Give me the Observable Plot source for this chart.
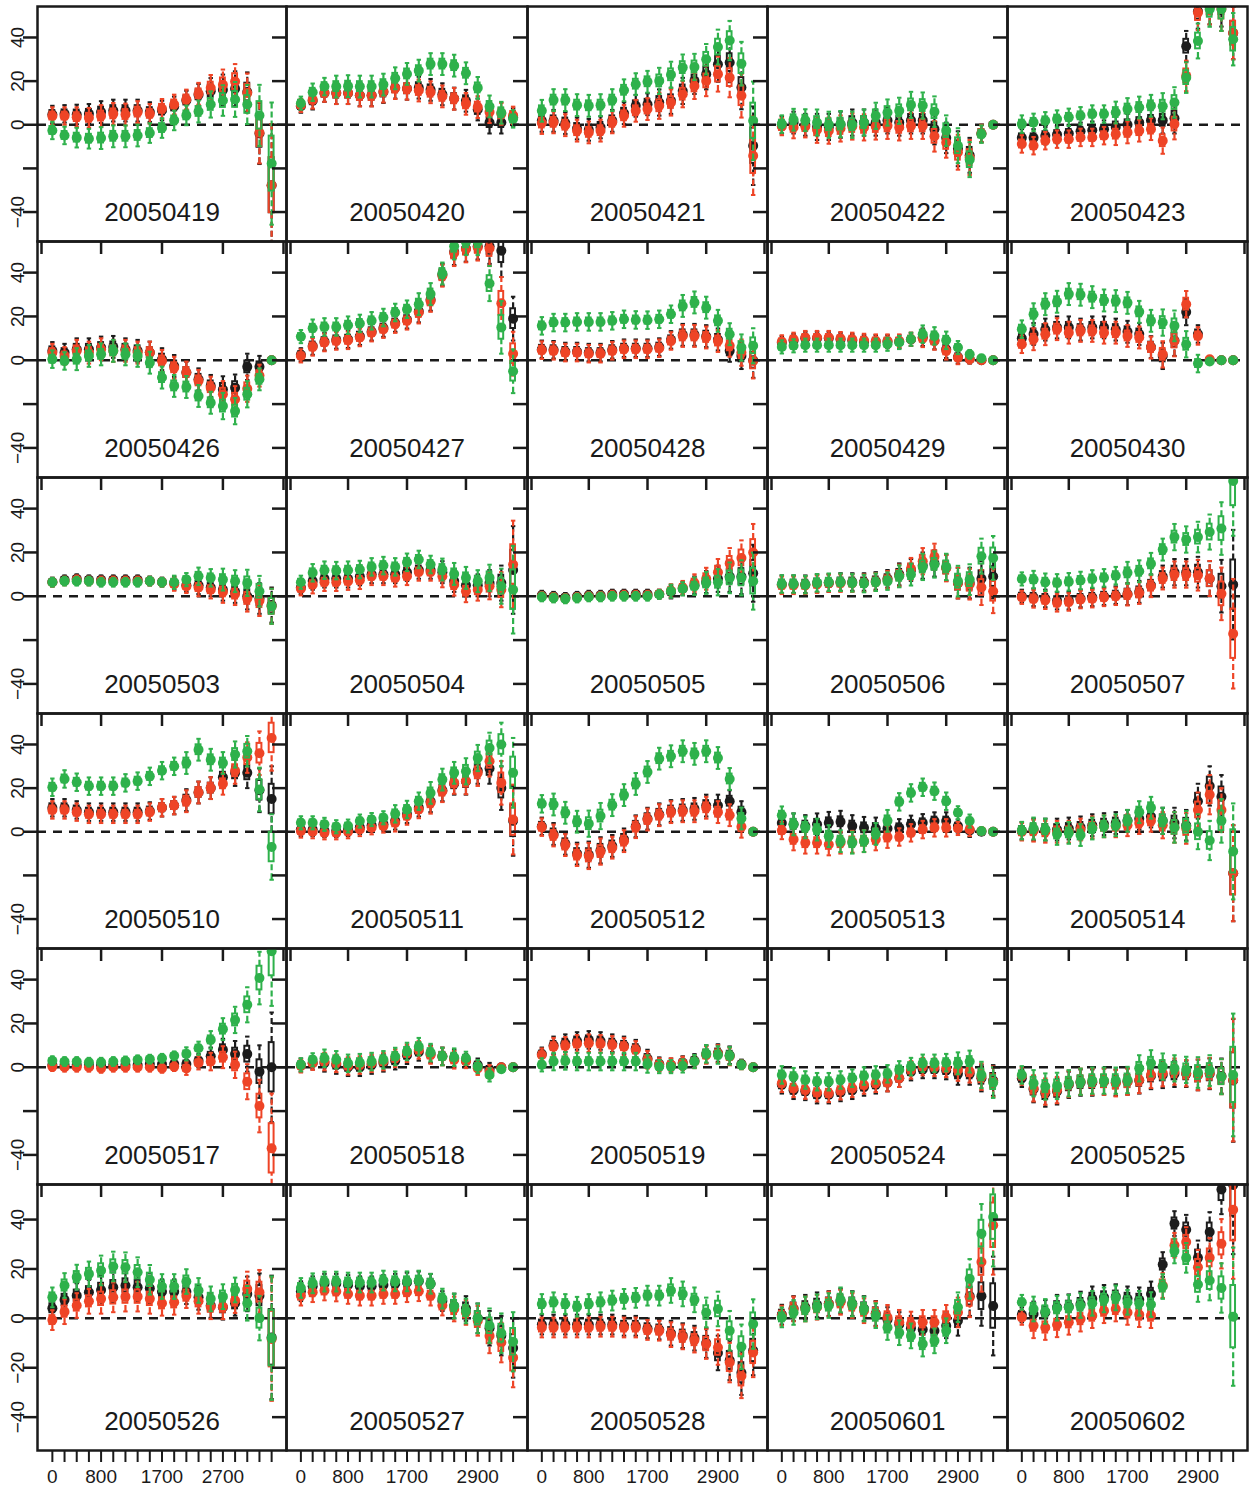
<!DOCTYPE html>
<html><head><meta charset="utf-8">
<script src="https://cdn.jsdelivr.net/npm/d3@7"></script>
<script src="https://cdn.jsdelivr.net/npm/@observablehq/plot@0.6"></script>
<style>
body{margin:0;background:#fff;}
#chart{position:relative;width:1249px;height:1486px;font-family:"Liberation Sans",Arial,Helvetica,sans-serif;}
#chart svg{position:absolute;overflow:visible;}
</style></head><body><div id="chart"></div>
<script>
// ---------- data ----------
const dates = ["20050419","20050420","20050421","20050422","20050423",
"20050426","20050427","20050428","20050429","20050430",
"20050503","20050504","20050505","20050506","20050507",
"20050510","20050511","20050512","20050513","20050514",
"20050517","20050518","20050519","20050524","20050525",
"20050526","20050527","20050528","20050601","20050602"];

const xLabelIdxFirst = [0,4,9,14];
const xLabelTextFirst = ["0","800","1700","2700"];
const xLabelIdxOther = [0,4,9,15];
const xLabelTextOther = ["0","800","1700","2900"];
const xInnerTicks = [4,9,14];
const yTicks = [-40,-20,0,20,40];
const yLabelsUpper = [-40,0,20,40];
const yLabelsBottom = [-40,-20,0,20,40];

const medBlack = [
[4.7,5,4.7,5,5.8,6.5,6.5,6.5,5.8,6.5,8.4,11.1,13.7,15.4,16,16.5,15,-4,-27.7],
[8.5,11,14.5,14.5,14.5,13.5,13.5,15,17,16.5,17,16,14,12,11,7,1,1,3.5],
[1.8,1.8,0.8,-1.7,-2.3,-1.2,1.8,5.3,8.7,9.4,10.2,11,15.5,20.1,23.2,27.7,28.5,17.1,-9.6],
[0,1,0,-1,-1,0,1,1,1,2,1,2,2,-2,-6,-11,-14,-4,0],
[-6,-6,-5,-4.5,-4,-3,-2.5,-2,-1,0,1,2,2,3,36,52,54,55,42],
[4.3,3.5,5,5,5.8,6.1,5,4.3,3.5,0.5,-2.6,-5.6,-8.7,-11.7,-13.3,-12.5,-3,-3,0],
[2.5,6.5,8.5,9.3,9.6,11,13,14.7,17,18.5,22.3,27.6,39,49.5,51,52,52,50,19],
[5,4.8,4,4,3.5,3.5,4.8,5.5,5.5,5.5,6,9.3,11.6,11.6,11,9.5,4.3,2,0],
[8,9,10,10,10,9.5,9,8.5,8.5,8.5,8.5,9.5,10.5,9,5,1.5,0.5,0,0],
[10,12,14,15,15,14,15,15,14,13,12,6,2,9,22,12,0,0,0],
[6.5,7.5,8,7.5,7.5,7.5,7.5,7.5,7,6.5,6,5,5,4,3,2,0,-1,-4],
[4,7,8,8,8,9,10,10,10,11,12,12,11,7,5,5,6,6,12],
[0.5,0,-0.5,0,0.5,0.5,1,1,1,1,1,2,3.5,5,6.5,8,9,9,10.5],
[5.5,5.5,5.5,6,6,6.5,6.5,6.5,7,8,10,12,14,15,13,6,6,8,9],
[0,-0.5,-1,-2,-2,-1,-0.5,0,0.5,1,2,5,9,11,11,11,8,4.6,5.3],
[11,11,10,9,9,9,9,9,9.5,11,12,14.5,18,20,25,27,27,19,15],
[1,1,0.5,0.5,1,2,3,3.5,5,8,11,14,19,22,23,28,29,20,5],
[2.5,-1,-5.5,-10,-10.5,-8.5,-6.5,-3.5,2.5,6,8,9.5,10,10.5,12,12,14,9,0],
[4,3.4,2.6,3.4,4.1,4.6,2.6,1.8,1.5,1.5,1.8,3.4,4.1,4.9,4.9,2.6,0.6,0,0],
[0.5,1,1,1,1.5,2,3,3.5,4,5,6,7,5,4,3,14,21,16,-19],
[1,1,1,1,1,1,1,1,1.5,1.5,1.5,1.5,3,5,8,6,6,-2,0],
[1,2,2,1,0,0,1,2,3,5.5,7,6,5,4,3,1,-1,0,0],
[6,10,11,12,12.5,12,11,10,8.5,4,1.5,1,2,3,6,6.5,5.5,1.5,0],
[-8,-10.5,-11,-12.5,-12.5,-11.5,-10.5,-9,-8,-7,-5,-2,-1,-1,-1.5,-3,-3,-5,-6],
[-5,-10,-12,-11,-8,-7,-7,-6.5,-7,-6.5,-6,-4,-3.5,-3,-3,-3.5,-3,-4,-6],
[4.1,7.5,9.2,10.6,11.5,12.6,13.3,12.6,12.2,10.8,10.8,10.8,8.5,5.2,4.5,6.1,9.9,9.2,-7.7],
[11,13,14,14,13.5,13,13,13.5,14,14.5,15,14,7,5,4,0,-4,-7,-12],
[-2.5,-2.5,-2.5,-2.5,-2.5,-2.5,-2.5,-3,-3,-4,-4.5,-6,-7,-8,-10,-14,-17,-22,-13],
[1.5,4,4.5,5.5,6,7,6,4,2,-0.5,-2.5,-4,-4.5,-5,-3,-1,9,9,5],
[1.4,1.8,2.4,4.5,4.7,5.8,7.9,8.5,8.8,7.9,7.5,9.9,21.8,38.4,35.9,24.5,35,52.2,54]
];

const medRed = [
[4,4,3.5,3.2,4,5,4.7,5.8,5,7.3,9.3,11.6,14.2,16.8,18.3,19.8,14.5,-3.7,-27.7],
[8.8,11.4,14.5,14.5,14.5,13.4,13.4,15.2,16.8,16.5,15.7,14.9,13,11.9,9.6,8.1,5.8,5,4.3],
[0.8,1.1,-0.2,-2.7,-3.5,-2.7,1.1,4.1,6.4,7.2,8.7,10.2,14,17.8,20.1,23.2,21.6,13.3,-14.2],
[-0.8,-1.2,-0.8,-2.3,-2.7,-1.7,-0.8,-1.2,-0.8,-0.5,-1.2,-0.5,-0.5,-5.3,-8.1,-12.6,-15,-4,0],
[-8.8,-9.6,-7.3,-6.6,-6.6,-5.8,-5.8,-5,-4.3,-3.5,-2.7,-2,-7.3,0.3,22.4,51.4,54,53,42],
[3.5,2,4.3,3.5,5,4.3,4.3,3.5,3.5,-0.3,-3.4,-5.6,-9.4,-12.5,-15.5,-17.8,-13,-7,0],
[2,6.1,8.1,8.8,9.1,10.4,12.6,14.2,16.5,18,21.8,27.1,38.6,49,50.7,51.5,51,26,3],
[4.6,4.3,3.5,3.5,3,3,4.3,5,5,5,5.5,8.8,11.1,11.1,10.4,8.8,6.6,3.5,-0.3],
[8.4,9.6,10.4,10.4,10.4,9.9,9.6,9.1,8.8,8.8,8.8,9.6,10,8.8,4.3,1.2,0.5,0,0],
[7.3,9.6,11.9,14.2,12.6,13.4,13.4,12.6,12.6,11.1,10.4,5.8,2.7,8.8,25.6,11.1,0.5,0,0],
[6.4,7,7.5,7,7,7,7,7,6.9,6.4,5.5,4.5,4,3,2,1,-1,-2,-4.6],
[3.4,5.3,6.4,6.4,6.9,7.3,9.1,9.1,8.4,9.1,11.1,11.1,9.1,5.3,2.3,3,4.6,3,14.5],
[0,-0.5,-1,-0.5,0,0,0.5,0.5,0.5,0.5,1,2.5,4,6,8,11,15,17.5,20],
[5,5,5,5.5,6,6,6,6,6.5,7.5,9.5,12.5,16,18,12.8,6,5.5,4,2.3],
[-0.5,-1.2,-1.8,-3,-2.6,-1.5,-1.1,-0.5,0,0.8,1.5,4.6,8.1,9.9,9.9,9.6,8.1,1.1,-17.1],
[10,10,9,8,8,8,8,8,9,11,12,14,18,20,22,28,34,36,43],
[0.3,0,-0.5,-0.5,0,1,1.8,2.6,4.1,7.2,10.2,13.3,18.6,22.4,23.2,27,32.3,22.4,5.6],
[2.1,-1.7,-6.1,-10.7,-11.1,-9.1,-7.3,-4.3,2.1,5.6,7.6,9,9.4,9.4,11,9,7.6,2.3,0],
[0.6,-3.5,-5,-5,-5.8,-5,-4.6,-4.3,-3.5,-2.4,-2.4,-0.5,1,1.8,1.8,1.5,1,0.3,0],
[0,0.5,0,0,0,1,2,2.5,2.5,3,4,5,3,2,1.5,10,17,10,-19],
[0.3,0,0,0,-0.5,0,0,0,0,-0.5,0.3,-0.5,2,2.6,4.6,1.1,-6.6,-17.7,-37],
[0.6,1.8,2.6,1.8,0.6,1,1.8,2.6,4.1,6.4,7.9,5.6,4.9,3.4,2.6,-0.5,-2,0,0],
[5.6,9.4,9.8,10.7,11,10.7,10.2,9.4,7.9,3.4,1.1,1.1,1.8,2.6,5.6,6.1,4.9,1.1,0],
[-7.3,-9.6,-10.4,-11.6,-11.9,-10.7,-9.6,-8.1,-7.3,-7,-5,-1.2,0.3,0,-0.5,-1.2,-2,-4.3,-6.6],
[-4,-9.6,-11.1,-10.4,-7.6,-6.6,-6.6,-6.6,-7.3,-6.6,-5.8,-3.5,-2.7,-2,-2.7,-3.5,-2.7,-4.3,-5.8],
[-0.7,2.7,5.2,6.9,7.9,8.5,8.8,8.8,7.9,6.1,6.5,9.2,6.9,4.7,4.7,7.2,11.9,10.6,-8.4],
[9.2,10.6,11.3,10.9,9.9,9.2,9.2,9.9,9.9,10.6,11,9.2,5.2,3.8,2.4,-1,-7.1,-9.8,-15.9],
[-3.7,-3.7,-3.7,-3.7,-3.7,-3.4,-3.4,-3.7,-3.7,-4.7,-5,-6.6,-7.5,-8.8,-10.4,-11.8,-17.9,-23.3,-13.8],
[1.1,3.8,3.8,4.5,5.8,6.5,5.2,3.1,1.8,0.4,-1.6,-2.3,-1.6,-1.6,0.4,2.4,8.5,22.8,37.7],
[0.4,-3,-3.7,-2.6,-1.6,-0.3,1.1,3.1,3.8,2.4,1.5,1.1,13.3,29.6,30.9,20.7,24.5,30.2,44]
];

const medGreen = [
[-2.6,-4.9,-5.9,-6.4,-6.1,-5.3,-5.3,-4.9,-3.8,-1.5,2,4.3,6.1,9.3,11.1,11.6,9.3,4.3,-17.8],
[9.9,14.9,17.5,17.5,17.7,17.5,17.5,18.4,21.3,23.3,24.8,27.8,27.8,27.1,23.6,16.9,8.4,5.5,2.7],
[6.4,11.3,11.3,9,8.7,9,11.3,15.8,18.6,19.7,20.1,22.9,26.2,26.5,30,35.6,38.6,28,1.8],
[0.3,2.3,2.1,1,0,0.3,0,1,4.1,5.6,6.4,9.1,8.8,6,-2.7,-9.6,-16,-4.3,0],
[0.3,1.1,1.8,2.6,3.4,4.1,4.9,4.9,5.6,7.2,7.9,8.7,8.5,10.2,21.6,38.4,52.9,53,39.2],
[0.5,-0.3,0.5,2,2.7,4.3,2.7,2,-1.1,-7.9,-11.7,-12.2,-16.3,-19.4,-20.9,-23.2,-15.5,-8.7,0],
[10.8,14.6,15.2,15.2,16,16.8,18,19.5,21.8,23.3,25.6,30.2,39.6,52,54,54,35,15,-5],
[15.7,17.2,17.2,17.5,17.5,17.5,18,18.7,18.4,18.3,18.7,21,24.8,26.4,24,18,11.9,5.8,6.6],
[6.1,6.6,6.9,6.9,6.9,6.9,6.9,6.9,6.9,7.3,8.1,9.6,11.9,11.1,9.1,5.8,2.7,0.9,0],
[14.2,21,25.6,26.7,30.2,29.9,28.8,27.3,27,26.2,22.1,18,17.2,15.7,7.3,-1.5,-0.6,0,0],
[6.4,6.9,6.9,6.9,6.4,6.4,6.4,6.4,6.9,6.4,6.4,7.6,9.1,8.4,7.6,6.9,6.1,2.3,-4.6],
[6.4,10.7,11.9,11.7,11.9,12.2,13.4,14,13.4,15.5,16.8,14.5,12.2,10.2,8.4,6.9,8.4,4.6,3],
[-0.3,-0.8,-1.2,-0.8,-0.3,-0.3,0,0,0,0,0.8,2.3,3.4,4.6,6.1,6.4,8.4,8.4,6.9],
[5.6,5.6,5.3,6.1,6.4,6.4,6.1,5.8,6.4,6.9,9.1,9.9,13.4,14.5,13.4,6.9,7.6,18.3,17.5],
[7.9,7.6,6.4,6.1,6.6,7.2,7.9,8.4,9.4,10.7,11.4,14.8,21.3,27,25.9,27,29.3,30.9,52.6],
[20.4,24.2,22.7,20.9,20.9,20.9,22.4,23.2,25.4,28,30,31.5,37.6,33,31.5,35.4,36.9,19.4,-7],
[4.1,4.1,3.4,2.3,2.6,4.9,5.6,6.4,8.2,10.2,14,17.8,23.9,27,27.7,33.8,38.4,40,27],
[12.8,12.5,8.7,4.6,3.7,7.2,12.2,16.8,21.9,27.4,33.5,34.6,36.9,35.7,36.9,33.8,24.2,6.1,0],
[7.6,3.4,2,1,-2,-4.3,-5,-4.3,-1,5,13.7,17.8,20.4,18.6,14,8.7,4.9,0.3,0],
[0.5,1.5,1,-1,-0.5,-1.5,1.5,2.5,3,5,9,11,5,2,2.5,0,-4,5,-9],
[3,2.6,2.6,2.3,2.3,2.6,2.9,3.4,3.7,4.1,5.2,6.1,8.7,12.5,17.4,21.6,28.5,40.7,53],
[1.1,3.4,4.1,3.4,1.8,2.1,2.6,3.4,4.9,7.2,9.4,6.7,4.9,4.6,4.1,0.3,-3.5,-0.9,0],
[1.1,2.6,2.9,2.6,2.6,2.6,2.6,2.6,2.6,1.5,0.3,0.3,0.6,2.6,6.1,5.6,5.2,1.1,0],
[-3.5,-4.3,-5.8,-6.6,-6.6,-5.8,-5,-4,-3.5,-3,-1.2,0.3,1.8,1.8,2.1,1.8,2.6,-3.5,-7],
[-3.5,-7.3,-8.8,-8.5,-7.3,-6.6,-6.1,-6.1,-6.1,-5.8,-0.5,1.8,0.3,-0.5,-1.2,-2.4,-1.5,-4.3,-3.5],
[8.5,13.3,16.7,18,19.4,21,20.7,18.7,15.6,12.9,12.9,14.9,11.3,7.9,8.8,11.5,6.1,0.1,-8],
[12.3,14.2,14.9,14.9,14.5,14.5,14.5,15.3,15,15,15.3,14,8,5,3,0,-3,-6,-9.5],
[5.8,6.5,5.8,4.7,5.8,6.5,7.2,7.9,8.3,9.2,9.2,11.3,9.9,7.5,2.4,3.8,-5,-11.5,-2.3],
[0.4,2.4,3.8,4.7,5.2,7.5,5.8,3.8,1.1,-3.7,-5.8,-7.1,-10.4,-9.1,-5,4.5,16,34.3,41],
[6.5,3.8,2.8,4.1,4.5,5.2,6.1,7.5,8.3,6.5,6.1,5.6,12.9,27.3,24.5,13.7,15.3,12.3,0.7]
];

// whisker half-length per panel and position
const spread = [
[4,4,4.5,4.5,5,5,5,5,4.5,4.5,4.5,4.5,5,6,7,8,9,14,28],
[3,4,4,5,5,5,5,5,5,5,5,5,5,5,5,5,5,5,4],
[5,5,5,5,5,5,5,5,5,5,6,6,6,6,7,8,9,10,18],
[4,5,5,6,6,6,6,6,6,6,6,6,6,7,7,8,8,4,1],
[4,4,4,4,4,4,4,4,5,5,5,5,6,7,7,8,8,10,12],
[4,4,5,5,5,5,5,5,5,5,5,5,5,5,6,6,6,5,1],
[3,4,4,4,4,4,4,4,4,4,5,5,5,6,6,6,8,12,10],
[4,4,4,4,4,4,4,4,4,4,4,4,5,5,5,5,5,6,8],
[3,3,3,3,3,3,3,3,3,3,3,3,4,4,4,3,2,1,1],
[4,5,5,5,5,5,5,5,5,5,5,5,6,7,6,4,1,1,1],
[2,2,2,2,2,2,2,2,2,2,3,3,4,4,5,5,6,7,8],
[3,4,4,4,4,4,4,4,4,4,4,4,5,5,5,5,6,8,20],
[2,2,2,2,2,2,2,2,2,2,2,3,3,4,5,6,7,8,13],
[4,4,4,4,4,4,4,4,4,4,5,5,6,6,6,7,7,8,10],
[3,4,4,4,4,4,4,4,4,5,5,5,5,6,6,7,8,12,25],
[4,4,4,4,4,4,4,4,4,4,4,5,5,5,5,6,7,10,15],
[3,3,3,3,3,3,3,3,4,4,4,5,5,5,6,6,7,10,16],
[4,5,5,5,6,6,5,5,5,5,5,5,5,5,5,5,5,5,1],
[4,5,5,5,5,5,5,5,5,5,4,4,4,4,4,3,3,1,1],
[4,5,5,5,5,5,5,5,5,5,5,5,6,7,7,8,9,10,22],
[2,2,2,2,2,2,2,2,2,2,2,3,3,4,5,6,8,12,25],
[3,3,4,4,4,4,4,4,4,4,4,4,4,4,3,3,3,1,1],
[3,4,4,4,4,4,4,4,4,4,3,3,3,3,4,4,4,2,1],
[4,4,4,4,4,4,4,4,4,4,4,4,4,4,4,5,5,6,7],
[4,6,6,6,6,6,6,6,6,6,6,6,6,6,6,7,7,8,28],
[4,5,5,5,6,6,6,6,6,5,5,5,5,5,5,5,7,9,25],
[4,4,4,4,4,4,4,4,4,4,4,4,4,5,5,6,7,8,12],
[4,4,4,4,4,4,4,4,4,4,4,5,5,5,6,7,8,9,10],
[4,5,5,5,5,5,5,5,5,5,5,5,5,5,5,6,8,12,20],
[3,5,5,5,5,5,5,5,5,5,5,5,5,5,6,7,8,10,28]
];

// ---------- layout & style ----------
const colEdges = [37, 286, 527, 767, 1007, 1247];
const rowEdges = [6, 241, 477, 713, 948, 1184, 1450];
const nLevels = 19;
const xPad = 1.22;
const yDomain = [-53.5, 54.2];
const colors = {black: "#1c1c1c", red: "#ee4426", green: "#2eb14b"};
const ink = "#1a1a1a";
const boxFrac = 0.45;
const capSymbol = {draw(ctx, size) { const w = Math.sqrt(size) / 2; ctx.moveTo(-w, 0); ctx.lineTo(w, 0); }};
const fmtNum = d => d < 0 ? "\u2212" + (-d) : String(d);

const chart = document.getElementById("chart");

function panel(p) {
  const r = Math.floor(p / 5), c = p % 5;
  const w = colEdges[c + 1] - colEdges[c];
  const h = rowEdges[r + 1] - rowEdges[r];
  const step = w / (nLevels - 1 + 2 * xPad);
  const isBottom = r === 5;
  const levels = d3.range(nLevels);

  const marks = [
    Plot.ruleY([0], {stroke: ink, strokeWidth: 2.5, strokeDasharray: "9,7"})
  ];
  const series = [["black", medBlack[p]], ["red", medRed[p]], ["green", medGreen[p]]];
  for (const [name, vals] of series) {
    const data = vals.map((m, i) => ({i, m, s: spread[p][i]}));
    const col = colors[name];
    marks.push(
      Plot.ruleX(data, {x: "i", y1: d => d.m - d.s, y2: d => d.m - boxFrac * d.s, stroke: col, strokeWidth: 2.2, strokeDasharray: "6,3", clip: true}),
      Plot.ruleX(data, {x: "i", y1: d => d.m + boxFrac * d.s, y2: d => d.m + d.s, stroke: col, strokeWidth: 2.2, strokeDasharray: "6,3", clip: true}),
      Plot.dot(data, {x: "i", y: d => d.m - d.s, symbol: capSymbol, r: 2.5, stroke: col, strokeWidth: 2, fill: "none", clip: true}),
      Plot.dot(data, {x: "i", y: d => d.m + d.s, symbol: capSymbol, r: 2.5, stroke: col, strokeWidth: 2, fill: "none", clip: true}),
      Plot.rect(data, {x1: d => d.i - 0.2, x2: d => d.i + 0.2, y1: d => d.m - boxFrac * d.s, y2: d => d.m + boxFrac * d.s, stroke: col, strokeWidth: 2, fill: "none", clip: true}),
      Plot.dot(data, {x: "i", y: "m", r: 5, fill: col, stroke: null, clip: true})
    );
  }
  marks.push(Plot.frame({stroke: ink, strokeWidth: 2.5}));
  // left ticks (outward)
  marks.push(Plot.axisY({ticks: yTicks, anchor: "left", tickSize: 14, tickFormat: () => "", label: null, strokeWidth: 2.5}));
  if (c === 0) {
    marks.push(Plot.text(isBottom ? yLabelsBottom : yLabelsUpper, {
      y: d => d, text: fmtNum, frameAnchor: "left", dx: -20, rotate: -90,
      fontSize: 19, textAnchor: "middle", lineAnchor: "middle", fill: ink
    }));
  }
  if (isBottom) {
    const idx = c === 0 ? xLabelIdxFirst : xLabelIdxOther;
    const txt = c === 0 ? xLabelTextFirst : xLabelTextOther;
    marks.push(Plot.axisX({ticks: levels, anchor: "bottom", tickSize: 12, tickPadding: 7,
      tickFormat: i => { const k = idx.indexOf(i); return k >= 0 ? txt[k] : ""; },
      fontSize: 19, label: null, strokeWidth: 2}));
  } else {
    const edgeL = -xPad + 4 / step, edgeR = nLevels - 1 + xPad - 3 / step;
    marks.push(Plot.axisX({ticks: [edgeL, ...xInnerTicks, edgeR], anchor: "bottom", tickSize: 13,
      tickFormat: () => "", label: null, strokeWidth: 2.5}));
  }
  marks.push(Plot.text([dates[p]], {text: d => d, frameAnchor: "bottom", dy: -29, fontSize: 26,
    lineAnchor: "middle", textAnchor: "middle", fill: ink}));

  const svg = Plot.plot({
    width: w, height: h, margin: 0,
    x: {domain: [-xPad, nLevels - 1 + xPad]},
    y: {domain: yDomain},
    style: {background: "transparent", overflow: "visible", fontFamily: "'Liberation Sans', Arial, Helvetica, sans-serif", fontSize: "19px", color: ink, maxWidth: "none"},
    marks
  });
  svg.style.left = colEdges[c] + "px";
  svg.style.top = rowEdges[r] + "px";
  chart.appendChild(svg);
}
for (let p = 0; p < dates.length; p++) panel(p);
</script>
</body></html>
